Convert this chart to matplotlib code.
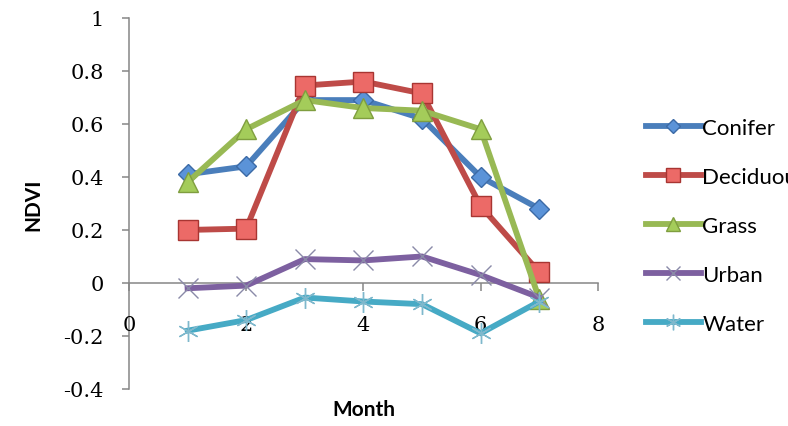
import numpy as np
from matplotlib import pyplot as plt

# monthly NDVI by land cover class
months = [1, 2, 3, 4, 5, 6, 7]
conifer = [0.41, 0.44, 0.69, 0.69, 0.62, 0.40, 0.28]
deciduous = [0.20, 0.205, 0.745, 0.76, 0.715, 0.29, 0.04]
grass = [0.38, 0.58, 0.69, 0.66, 0.65, 0.58, -0.06]
urban = [-0.02, -0.01, 0.09, 0.085, 0.10, 0.03, -0.055]
water = [-0.18, -0.14, -0.055, -0.07, -0.08, -0.19, -0.07]

xticks = [0, 2, 4, 6, 8]
yticks = [-0.4, -0.2, 0, 0.2, 0.4, 0.6, 0.8, 1]
ytick_labels = ['-0.4', '-0.2', '0', '0.2', '0.4', '0.6', '0.8', '1']

styles = [
    ('Conifer', conifer, '#4a7ebb', dict(marker='D', ms=10, mfc='#5b93d8', mec='#3c6aa6')),
    ('Deciduous', deciduous, '#be4b48', dict(marker='s', ms=14, mfc='#ec6a67', mec='#a83532')),
    ('Grass', grass, '#98b954', dict(marker='^', ms=14, mfc='#a4cc5a', mec='#7f9e3f')),
    ('Urban', urban, '#7d60a0', dict(marker='x', ms=14, mew=1.0, mec='#8a8aa8')),
    ('Water', water, '#46aac5', dict(marker=(6, 2, 0), ms=15, mew=1.0, mec='#7fb8cc')),
]

axis_grey = '#868686'

fig = plt.figure(figsize=(7.88, 4.27), dpi=100)
ax = fig.add_axes([0.1637, 0.0867, 0.595, 0.869])

for name, vals, col, mk in styles:
    ax.plot(months, vals, color=col, lw=4.2, label=name, solid_joinstyle='round',
            clip_on=False, **mk)

ax.set_xlim(0, 8)
ax.set_ylim(-0.4, 1)

ax.spines['top'].set_visible(False)
ax.spines['right'].set_visible(False)
ax.spines['bottom'].set_position(('data', 0))
for sp in ('left', 'bottom'):
    ax.spines[sp].set_color(axis_grey)
    ax.spines[sp].set_linewidth(1.1)
    ax.spines[sp].set_zorder(1)

ax.set_xticks(xticks)
ax.set_xticklabels([str(t) for t in xticks])
ax.set_yticks(yticks)
ax.set_yticklabels(ytick_labels)
ax.tick_params(axis='x', direction='out', length=6, width=1.1, color=axis_grey, pad=17,
               labelsize=15, labelfontfamily='DejaVu Serif')
ax.tick_params(axis='y', direction='out', length=5, width=1.1, color=axis_grey, pad=13,
               labelsize=15, labelfontfamily='DejaVu Serif')

ax.set_xlabel('Month', family='Lato', weight='bold', size=15, va='center')
ax.xaxis.set_label_coords(0.5, -0.055)
ax.set_ylabel('NDVI', family='Lato', weight='bold', size=15, va='center')
ax.yaxis.set_label_coords(-0.205, 0.5)

# legend runs off the right edge, as in the original layout
fig.legend(loc='upper left', bbox_to_anchor=(0.808, 0.742), frameon=False,
           prop=dict(family='Lato', size=16), handlelength=2.5, handletextpad=0.05,
           labelspacing=1.3, borderaxespad=0, markerscale=0.75)

fig.savefig('out.png', dpi=100)
